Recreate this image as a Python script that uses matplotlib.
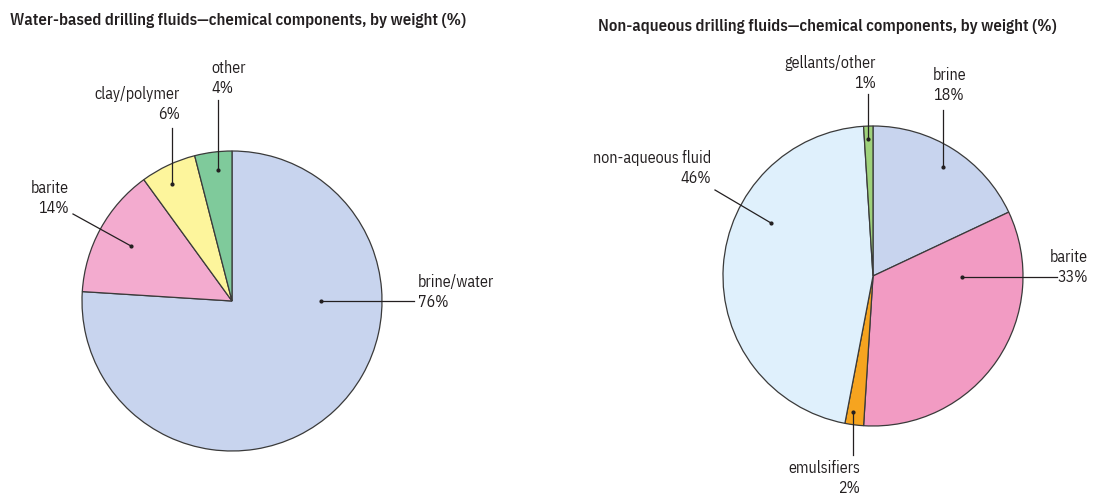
import matplotlib.pyplot as plt

plt.rcParams['font.family'] = ['IBM Plex Sans Condensed', 'DejaVu Sans']

# left pie: water-based fluids
wb_labels = ["brine/water", "barite", "clay/polymer", "other"]
wb_values = [76, 14, 6, 4]
wb_colors = ["#c8d4ee", "#f3abcf", "#fdf59c", "#7fca9b"]

# right pie: non-aqueous fluids
na_labels = ["brine", "barite", "emulsifiers", "non-aqueous fluid", "gellants/other"]
na_values = [18, 33, 2, 46, 1]
na_colors = ["#c8d4ee", "#f29bc3", "#f6a41f", "#dff0fc", "#9fd27b"]

H = 495
fig = plt.figure(figsize=(11, 4.95), dpi=100)
ax = fig.add_axes([0, 0, 1, 1])

ink = "#231f20"
edge = "#3a3a3a"

ax.pie(wb_values, colors=wb_colors, startangle=90, counterclock=False,
       center=(232, H - 301), radius=150,
       wedgeprops=dict(edgecolor=edge, linewidth=0.9))
ax.pie(na_values, colors=na_colors, startangle=90, counterclock=False,
       center=(873, H - 276), radius=150,
       wedgeprops=dict(edgecolor=edge, linewidth=0.9))

ax.set_xlim(0, 1100)
ax.set_ylim(0, H)
ax.set_aspect('equal')
ax.axis('off')


def callout(text, pct, dot, end, txt, ha):
    ax.plot([dot[0], end[0]], [H - dot[1], H - end[1]], color=ink, lw=0.9)
    ax.plot(dot[0], H - dot[1], 'o', color=ink, ms=2)
    ax.text(txt[0], H - txt[1], text + "\n" + pct + "%", ha=ha, va='center',
            fontsize=11.5, color=ink, linespacing=1.25, multialignment=ha)


# water-based callouts
callout(wb_labels[0], str(wb_values[0]), (321, 301), (414, 301), (418, 292), 'left')
callout(wb_labels[1], str(wb_values[1]), (131, 246), (73, 214), (69, 198), 'right')
callout(wb_labels[2], str(wb_values[2]), (172, 184), (172, 128), (180, 104), 'right')
callout(wb_labels[3], str(wb_values[3]), (218, 170), (218, 100), (211, 78), 'left')

# non-aqueous callouts
callout(na_labels[0], str(na_values[0]), (943, 167), (943, 110), (933, 85), 'left')
callout(na_labels[1], str(na_values[1]), (962, 277), (1057, 277), (1088, 267), 'right')
callout(na_labels[2], str(na_values[2]), (853, 412), (853, 455), (860, 478), 'right')
callout(na_labels[3], str(na_values[3]), (771, 223), (715, 190), (711, 168), 'right')
callout(na_labels[4], str(na_values[4]), (868, 139), (868, 94), (876, 73), 'right')

ax.text(10, H - 20, "Water-based drilling fluids\u2014chemical components, by weight (%)",
        ha='left', va='center', fontsize=12, fontweight='semibold', color=ink)
ax.text(598, H - 27, "Non-aqueous drilling fluids\u2014chemical components, by weight (%)",
        ha='left', va='center', fontsize=12, fontweight='semibold', color=ink)

fig.savefig("out.png", dpi=100)
